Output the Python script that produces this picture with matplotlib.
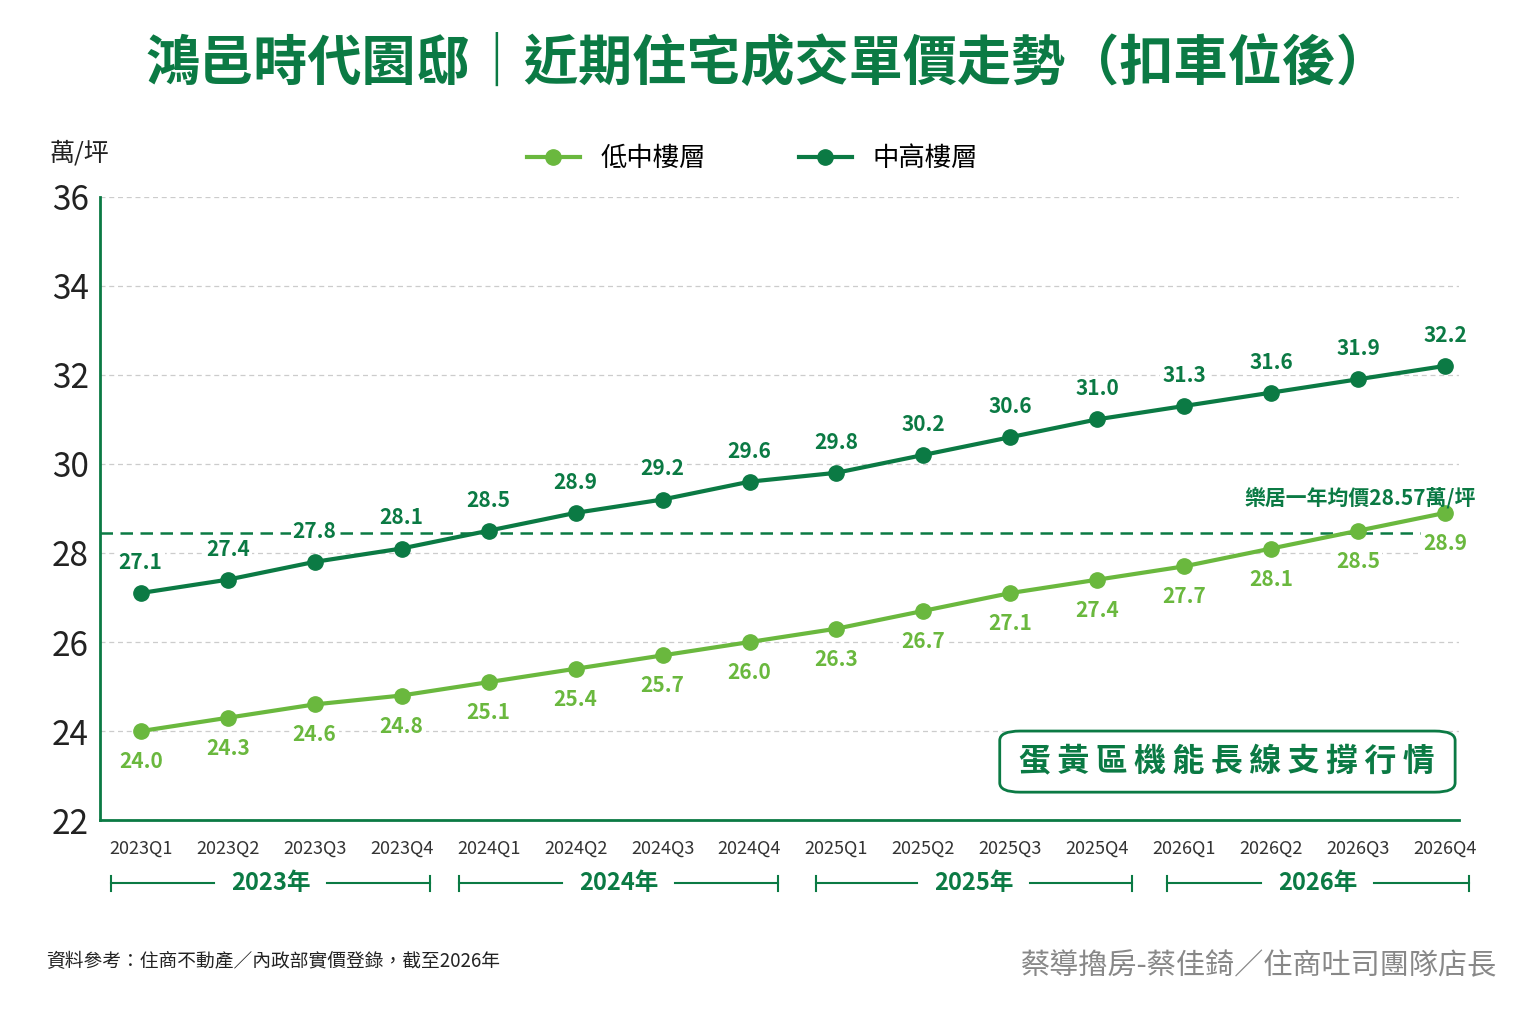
import numpy as np
import matplotlib; matplotlib.use("Agg")
import matplotlib.pyplot as plt
from matplotlib.patches import FancyBboxPatch
import matplotlib.transforms as mt

plt.rcParams['font.family'] = ['Noto Sans CJK TC', 'DejaVu Sans']

quarters = ['2023Q1','2023Q2','2023Q3','2023Q4','2024Q1','2024Q2','2024Q3','2024Q4',
            '2025Q1','2025Q2','2025Q3','2025Q4','2026Q1','2026Q2','2026Q3','2026Q4']
low = [24.0,24.3,24.6,24.8,25.1,25.4,25.7,26.0,26.3,26.7,27.1,27.4,27.7,28.1,28.5,28.9]
high = [27.1,27.4,27.8,28.1,28.5,28.9,29.2,29.6,29.8,30.2,30.6,31.0,31.3,31.6,31.9,32.2]
years = ['2023年','2024年','2025年','2026年']
avg_line = 28.45

DARK = '#0b7a44'; LIGHT = '#6ab83e'
fig = plt.figure(figsize=(15.36,10.24), dpi=100)
ax = fig.add_axes([0.065,0.199,0.885,0.609])
x = np.arange(len(quarters))
ax.plot(x, high, '-o', color=DARK, lw=3, ms=11, label='中高樓層', zorder=3)
ax.plot(x, low, '-o', color=LIGHT, lw=3, ms=11, label='低中樓層', zorder=3)
ax.axhline(avg_line, color=DARK, ls=(0,(5,3)), lw=1.8, zorder=2)
bb = dict(fc='white', ec='none', pad=1.5)
for i in range(len(x)):
    ax.text(x[i], high[i]+0.45, f'{high[i]:.1f}', ha='center', va='bottom', fontsize=15, color=DARK,
            fontweight='bold', bbox=bb, zorder=4)
    ax.text(x[i], low[i]-0.45, f'{low[i]:.1f}', ha='center', va='top', fontsize=15, color=LIGHT,
            fontweight='bold', bbox=bb, zorder=4)
ax.text(15.35, avg_line+0.55, '樂居一年均價28.57萬/坪', ha='right', va='bottom', fontsize=15, color=DARK, fontweight='bold')

ax.set_xlim(-0.47, 15.16); ax.set_ylim(22, 36)
ax.set_yticks(range(22, 37, 2))
ax.set_xticks(x); ax.set_xticklabels(quarters, fontsize=13, color='#333')
ax.tick_params(axis='y', labelsize=24, length=0, pad=8, labelcolor='#222')
ax.tick_params(axis='x', length=0, pad=14)
ax.grid(axis='y', color='#cccccc', ls=(0,(4,3)), lw=0.9)
for s in ['top','right']: ax.spines[s].set_visible(False)
ax.spines['left'].set_color(DARK); ax.spines['bottom'].set_color(DARK)
ax.spines['left'].set_linewidth(2); ax.spines['bottom'].set_linewidth(2)

# year brackets
tr = mt.blended_transform_factory(ax.transData, ax.transAxes)
spans = [(-0.34,3.33),(3.66,7.33),(7.76,11.4),(11.8,15.27)]
yb = -0.101
for (a,b), yl in zip(spans, years):
    m = (a+b)/2
    ax.plot([a, m-0.65], [yb,yb], color=DARK, lw=1.5, transform=tr, clip_on=False)
    ax.plot([m+0.65, b], [yb,yb], color=DARK, lw=1.5, transform=tr, clip_on=False)
    for e in (a,b):
        ax.plot([e,e], [yb-0.012, yb+0.012], color=DARK, lw=1.5, transform=tr, clip_on=False)
    ax.text(m, yb, yl, ha='center', va='center', fontsize=17, color=DARK, fontweight='bold', transform=tr)

# callout box
box = FancyBboxPatch((0.662,0.045), 0.335, 0.098, boxstyle='round,pad=0,rounding_size=0.015',
                     transform=ax.transAxes, fc='white', ec=DARK, lw=2, zorder=4)
ax.add_patch(box)
ax.text(0.829, 0.094, ' '.join('蛋黃區機能長線支撐行情').replace(' ', '\u2009'), transform=ax.transAxes,
        ha='center', va='center', fontsize=23, fontweight='bold', color=DARK, zorder=5, family=['DejaVu Sans'] and ['Noto Sans CJK TC','DejaVu Sans'])

fig.text(0.5, 0.937, '鴻邑時代園邸｜近期住宅成交單價走勢（扣車位後）', ha='center', va='center',
         fontsize=39, fontweight='bold', color=DARK)
fig.text(0.032, 0.85, '萬/坪', fontsize=18, color='#222', va='center')
h, l = ax.get_legend_handles_labels()
fig.legend(h[::-1], l[::-1], loc='center', bbox_to_anchor=(0.49, 0.845), ncol=2, frameon=False,
           fontsize=19, columnspacing=3.5, handlelength=2)
fig.text(0.03, 0.061, '資料參考：住商不動產／內政部實價登錄，截至2026年', fontsize=13.5, color='#222', va='center')
fig.text(0.975, 0.056, '蔡導擼房-蔡佳錡／住商吐司團隊店長', fontsize=21, color='#888', ha='right', va='center')
fig.savefig('out.png', dpi=100)
